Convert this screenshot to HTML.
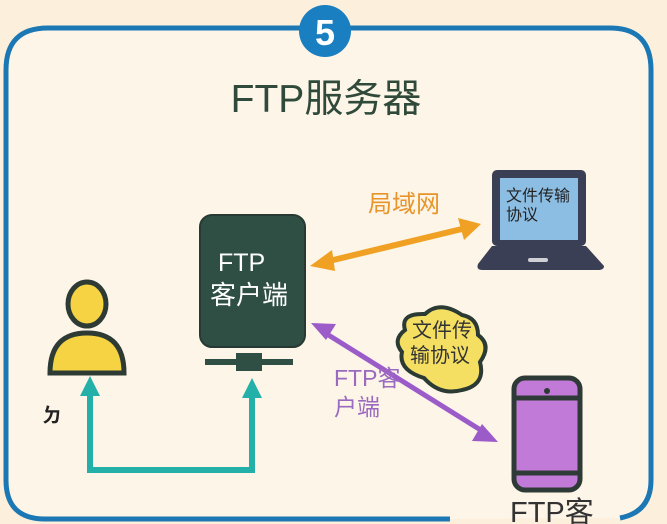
<!DOCTYPE html>
<html><head><meta charset="utf-8"><style>
html,body{margin:0;padding:0;background:#fcf1df;}
svg{display:block}
text{font-family:"Liberation Sans","Noto Sans CJK SC",sans-serif;}
</style></head><body>
<svg width="667" height="524" viewBox="0 0 667 524" xmlns="http://www.w3.org/2000/svg">
<rect width="667" height="524" fill="#fcf0dc"/>
<path d="M450 519 L45 519 Q6 519 6 480 L6 70 Q6 28 48 28 L610 28 Q651 28 651 70 L651 480 Q651 512 620 518" fill="#fdf5e7" stroke="#1c78b4" stroke-width="5"/>
<circle cx="325" cy="31" r="26" fill="#1a7fc0"/>
<text x="325" y="45" font-size="36" font-weight="bold" fill="#fff" text-anchor="middle">5</text>
<text x="326" y="112" font-size="39" fill="#2f4a3a" text-anchor="middle">FTP服务器</text>
<!-- server -->
<rect x="200" y="215" width="105" height="132" rx="12" fill="#2f4f45" stroke="#263a33" stroke-width="2"/>
<text x="218" y="271" font-size="25" fill="#fff">FTP</text>
<text x="210" y="304" font-size="26" fill="#fff">客户端</text>
<rect x="205" y="359" width="88" height="6" fill="#2f4f45"/>
<rect x="236" y="353" width="26" height="18" fill="#2f4f45"/>
<!-- laptop -->
<rect x="492" y="170" width="94" height="76" rx="5" fill="#3a3f55"/>
<rect x="500" y="178" width="78" height="62" fill="#8cbde3"/>
<text x="506" y="201" font-size="16" fill="#222">文件传输</text>
<text x="506" y="220" font-size="16" fill="#222">协议</text>
<path d="M492 246 L586 246 L604 266 Q604 270 598 270 L482 270 Q476 270 478 264 Z" fill="#3a3f55"/>
<rect x="528" y="258" width="20" height="4" rx="2" fill="#cfcfd6"/>
<!-- orange arrow -->
<line x1="325" y1="262" x2="466" y2="228" stroke="#f0a022" stroke-width="6"/>
<polygon points="310,266 332,250 335,271" fill="#f0a022"/>
<polygon points="481,224 458,218 464,240" fill="#f0a022"/>
<text x="368" y="212" font-size="24" fill="#e8942a">局域网</text>
<!-- cloud -->
<path d="M405 330 Q400 313 425 314 Q440 300 462 315 Q478 318 478 335 Q492 345 480 362 Q486 385 462 390 Q440 396 424 378 Q398 370 402 352 Q392 340 405 330 Z" fill="#f5df63" stroke="#2b3b33" stroke-width="4"/>
<text x="412" y="337" font-size="20" fill="#333">文件传</text>
<text x="410" y="362" font-size="20" fill="#333">输协议</text>
<!-- purple arrow -->
<line x1="322" y1="331" x2="487" y2="434" stroke="#9b5cc9" stroke-width="5"/>
<polygon points="311,323 336,324 326,340" fill="#9b5cc9"/>
<polygon points="498,442 482,424 472,441" fill="#9b5cc9"/>
<text x="334" y="386" font-size="23" fill="#9a6ac0">FTP客</text>
<text x="334" y="415" font-size="23" fill="#9a6ac0">户端</text>
<!-- phone -->
<rect x="514" y="378" width="66" height="112" rx="11" fill="#c27ad8" stroke="#2e3a35" stroke-width="5"/>
<line x1="514" y1="398" x2="580" y2="398" stroke="#2e3a35" stroke-width="5"/>
<line x1="514" y1="473" x2="580" y2="473" stroke="#2e3a35" stroke-width="5"/>
<circle cx="547" cy="391" r="3" fill="#2e3a35"/>
<text x="510" y="522" font-size="29" fill="#333">FTP客</text>
<!-- person -->
<ellipse cx="87" cy="304" rx="19" ry="22" fill="#f5d343" stroke="#2e3b35" stroke-width="5"/>
<path d="M50 373 Q50 333 87 333 Q124 333 124 373 Z" fill="#f5d343" stroke="#2e3b35" stroke-width="5"/>
<text x="42" y="422" font-size="20" font-weight="bold" fill="#222">ㄉ</text>
<!-- teal -->
<path d="M90 388 L90 470 L252 470 L252 388" fill="none" stroke="#22b0a8" stroke-width="6"/>
<polygon points="90,376 80,396 100,396" fill="#22b0a8"/>
<polygon points="252,378 242,398 262,398" fill="#22b0a8"/>
</svg>
</body></html>
